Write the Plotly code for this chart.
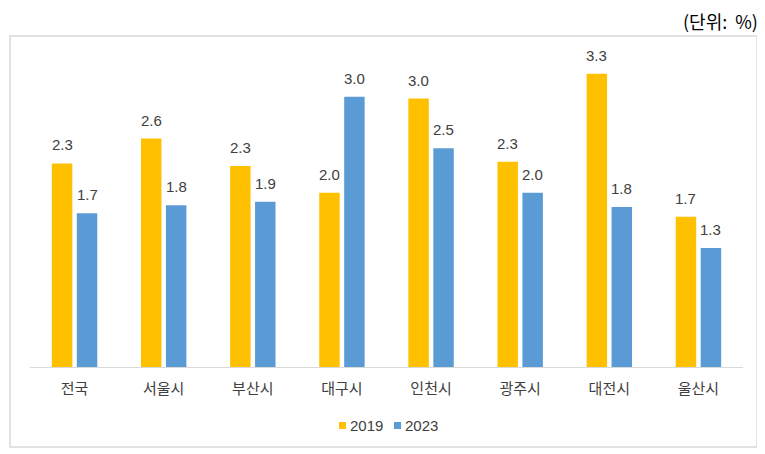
import plotly.graph_objects as go

categories = ["전국", "서울시", "부산시", "대구시", "인천시", "광주시", "대전시", "울산시"]
values_2019 = [2.29, 2.57, 2.26, 1.96, 3.02, 2.31, 3.30, 1.69]
values_2023 = [1.73, 1.82, 1.86, 3.04, 2.46, 1.96, 1.80, 1.34]
series_names = ["2019", "2023"]
colors = ["#FFC000", "#5B9BD5"]
unit_label = "(단위:\u00a0\u00a0%)"

OFF = 8  # default page body margin
W, H = 765 - OFF, 454 - OFF
L, R, T, B = 30 - OFF, 22, 47 - OFF, 87
pw, ph = W - L - R, H - T - B

def px_x(x):
    return (x - OFF - L) / pw

def px_y(y):
    return (H - B - (y - OFF)) / ph

num_fam = "Liberation Sans, Noto Sans CJK KR, sans-serif"
kr_fam = "Noto Sans CJK KR, sans-serif"

fig = go.Figure()
series = [values_2019, values_2023]
for name, vals, col in zip(series_names, series, colors):
    fig.add_trace(go.Bar(
        x=categories, y=vals, name=name, marker=dict(color=col, line=dict(width=0)),
        showlegend=False, hoverinfo="x+y+name",
    ))

# data labels above each bar
for j, vals in enumerate(series):
    shift = -12.5 if j == 0 else 12.5
    for c, v in zip(categories, vals):
        fig.add_annotation(x=c, y=v, xref="x", yref="y", text=f"{round(v + 1e-9, 1):.1f}",
                           showarrow=False, xanchor="center", yanchor="bottom",
                           xshift=shift, yshift=8,
                           font=dict(size=15, color="#404040", family=num_fam))

fig.update_layout(
    width=W, height=H,
    margin=dict(l=L, r=R, t=T, b=B, autoexpand=False),
    paper_bgcolor="white", plot_bgcolor="white",
    barmode="group", bargap=0.44, bargroupgap=0.18,
    font=dict(family=num_fam, color="#404040"),
    xaxis=dict(showline=True, linecolor="#d9d9d9", linewidth=1,
               ticks="outside", ticklen=8, tickcolor="rgba(0,0,0,0)",
               tickfont=dict(size=15, color="#404040", family=kr_fam), showgrid=False),
    yaxis=dict(range=[0, 3.6], visible=False, showgrid=False),
    showlegend=False,
)

# chart border
fig.add_shape(type="rect", xref="paper", yref="paper",
              x0=px_x(10), x1=px_x(757), y0=px_y(447), y1=px_y(36),
              line=dict(color="#d9d9d9", width=1.5), fillcolor="rgba(0,0,0,0)", layer="below")

# manual legend
leg_x = [339, 394]
for name, col, lx in zip(series_names, colors, leg_x):
    fig.add_shape(type="rect", xref="paper", yref="paper",
                  x0=px_x(lx), x1=px_x(lx + 7), y0=px_y(429), y1=px_y(422),
                  line=dict(width=0), fillcolor=col)
    fig.add_annotation(text=name, xref="paper", yref="paper", x=px_x(lx + 9), y=px_y(425.5),
                       xanchor="left", yanchor="middle", showarrow=False,
                       font=dict(size=15, color="#404040", family=num_fam))

fig.add_annotation(text=unit_label, xref="paper", yref="paper", x=px_x(759), y=px_y(21),
                   xanchor="right", yanchor="middle", showarrow=False, borderpad=0,
                   font=dict(size=18, color="#000000", family=kr_fam))

fig.write_html("out.html")
